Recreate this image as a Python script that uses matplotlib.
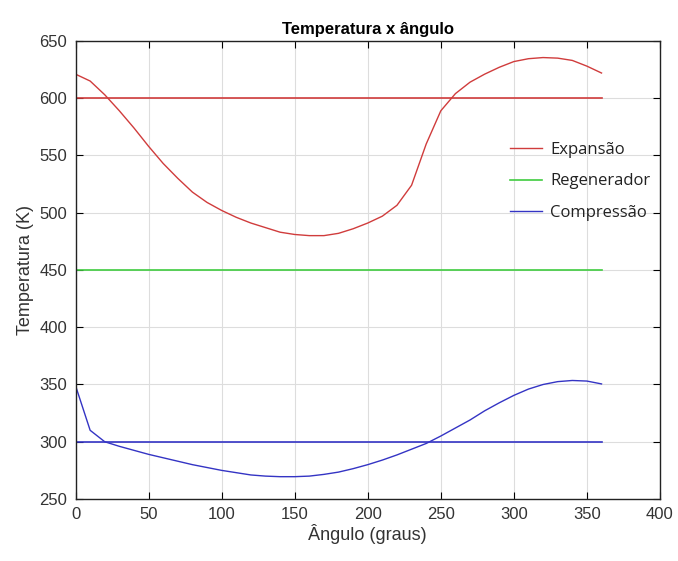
import matplotlib.pyplot as plt
import numpy as np

# angle (degrees), step 10
angulo = list(range(0, 370, 10))

# expansion space temperature (K)
t_expansao = [621, 615, 603, 589, 574, 558, 543, 530, 518, 509,
              502, 496, 491, 487, 483, 481, 480, 480, 482, 486,
              491, 497, 506.5, 524, 560, 589, 604, 614, 621, 627,
              632, 634.5, 635.5, 635, 633, 628, 622]

# compression space temperature (K)
t_compressao = [349, 310, 300, 296, 292.5, 289, 286, 283, 280, 277.5,
                275, 273, 271, 270, 269.5, 269.5, 270, 271.5, 273.5, 276.5,
                280, 284, 288.5, 293.5, 298.5, 305, 312, 319, 327, 334,
                340.5, 346, 350, 352.5, 353.5, 353, 350.5]

# constant reference temperatures (K)
t_quente = 600
t_regenerador = 450
t_fria = 300

red = '#d03c3c'
green = '#40cc40'
blue = '#3434c4'

plt.rcParams['font.family'] = ['Liberation Sans', 'DejaVu Sans']

fig = plt.figure(figsize=(6.78, 5.61), dpi=100)
ax = fig.add_axes([0.1114, 0.1105, 0.862, 0.8165])

x = np.array(angulo)
ax.plot(x, t_expansao, color=red, lw=1.0, label='Expansão')
ax.plot(x, np.full(len(x), t_quente), color=red, lw=1.2)
ax.plot(x, np.full(len(x), t_regenerador), color=green, lw=1.2, label='Regenerador')
ax.plot(x, t_compressao, color=blue, lw=1.0, label='Compressão')
ax.plot(x, np.full(len(x), t_fria), color=blue, lw=1.2)

ax.set_xlim(0, 400)
ax.set_ylim(250, 650)
ax.set_xticks(range(0, 401, 50))
ax.set_yticks(range(250, 651, 50))
ax.grid(True, color='#dddddd', lw=0.8)
ax.set_axisbelow(True)
ax.tick_params(direction='in', top=True, right=True, length=5, labelsize=12,
               labelcolor='#333333', pad=6)
for s in ax.spines.values():
    s.set_linewidth(1.0)
    s.set_color('#222222')

ax.set_title('Temperatura x ângulo', fontsize=12, fontweight='bold', pad=5)
ax.set_xlabel('Ângulo (graus)', fontsize=13, color='#333333', labelpad=1)
ax.set_ylabel('Temperatura (K)', fontsize=13, color='#333333', labelpad=4)

leg = ax.legend(loc='upper left', bbox_to_anchor=(0.718, 0.812), frameon=False,
                prop={'family': 'Open Sans', 'size': 12}, handlelength=1.9,
                handletextpad=0.5, labelspacing=0.92)
for t in leg.get_texts():
    t.set_color('#222222')

fig.savefig('out.png', dpi=100)
